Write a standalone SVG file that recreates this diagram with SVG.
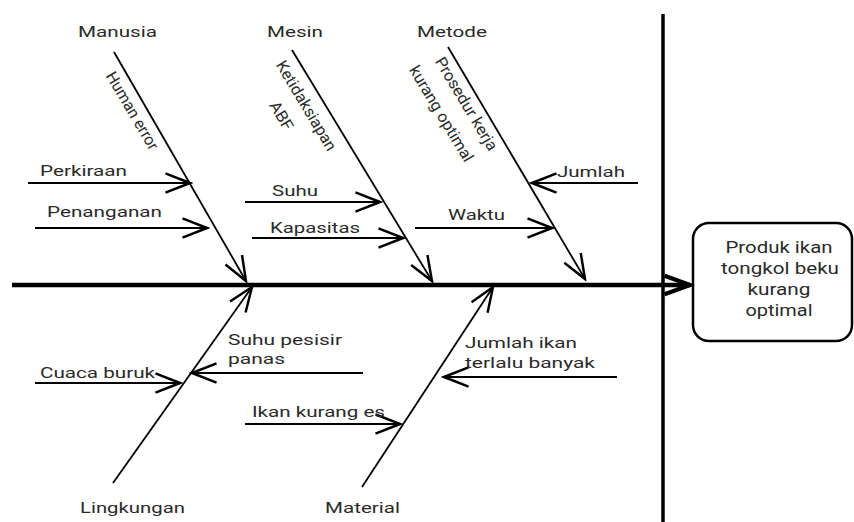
<svg xmlns="http://www.w3.org/2000/svg" width="854" height="522" viewBox="0 0 854 522">
<defs>
<marker id="ah" markerUnits="userSpaceOnUse" markerWidth="30" markerHeight="30" viewBox="-20 -10 22 20" refX="0" refY="0" orient="auto">
<path d="M-18,-7 L0,0 L-18,7" fill="none" stroke="#000" stroke-width="1.8"/>
</marker>
<marker id="ahb" markerUnits="userSpaceOnUse" markerWidth="30" markerHeight="30" viewBox="-24 -12 26 24" refX="0" refY="0" orient="auto">
<path d="M-22,-8 L0,0 L-22,8" fill="none" stroke="#000" stroke-width="3.5"/>
</marker>
<style>
text{font-family:Roboto,"Liberation Sans",sans-serif;font-size:15px;fill:#2a2a2a}
.box{font-size:17px;text-anchor:middle}
.rot{text-anchor:middle;font-size:16px}
.ln{stroke:#000;stroke-width:1.8;fill:none;marker-end:url(#ah)}
</style>
</defs>
<rect width="854" height="522" fill="#fff"/>
<g id="connectors">
<line x1="12" y1="285" x2="690" y2="285" stroke="#000" stroke-width="4.5" marker-end="url(#ahb)"/>
<line x1="663" y1="14" x2="663" y2="522" stroke="#000" stroke-width="3.5"/>
<line class="ln" x1="114" y1="52" x2="246" y2="281"/>
<line class="ln" x1="292" y1="50" x2="432" y2="281"/>
<line class="ln" x1="448" y1="47" x2="585" y2="279"/>
<line class="ln" x1="113" y1="483" x2="252" y2="287"/>
<line class="ln" x1="362" y1="487" x2="493" y2="287"/>
<line class="ln" x1="28" y1="183" x2="190" y2="183"/>
<line class="ln" x1="35" y1="228" x2="207" y2="228"/>
<line class="ln" x1="245" y1="202" x2="380" y2="202"/>
<line class="ln" x1="252" y1="238" x2="403" y2="238"/>
<line class="ln" x1="415" y1="228" x2="552" y2="228"/>
<line class="ln" x1="638" y1="183" x2="532" y2="183"/>
<line class="ln" x1="35" y1="383" x2="180" y2="383"/>
<line class="ln" x1="363" y1="373" x2="192" y2="373"/>
<line class="ln" x1="245" y1="424" x2="400" y2="424"/>
<line class="ln" x1="617" y1="377" x2="444" y2="377"/>
</g>
<g id="effect">
<rect x="693" y="223" width="159" height="118" rx="16" fill="#fff" stroke="#000" stroke-width="2.5"/>
<text class="box" x="779" y="253" textLength="107" lengthAdjust="spacingAndGlyphs">Produk ikan</text>
<text class="box" x="780" y="274" textLength="118" lengthAdjust="spacingAndGlyphs">tongkol beku</text>
<text class="box" x="779" y="295" textLength="63" lengthAdjust="spacingAndGlyphs">kurang</text>
<text class="box" x="779" y="316" textLength="67" lengthAdjust="spacingAndGlyphs">optimal</text>
</g>
<g id="manusia">
<text x="78" y="37" textLength="79" lengthAdjust="spacingAndGlyphs">Manusia</text>
<text class="rot" transform="translate(132,111) rotate(59.5)" y="5" textLength="88" lengthAdjust="spacingAndGlyphs">Human error</text>
</g>
<g id="mesin">
<text x="267" y="37" textLength="56" lengthAdjust="spacingAndGlyphs">Mesin</text>
<text class="rot" transform="translate(306,106) rotate(59)" y="5" textLength="102" lengthAdjust="spacingAndGlyphs">Ketidaksiapan</text>
<text class="rot" transform="translate(281,116) rotate(59)" y="5" textLength="31" lengthAdjust="spacingAndGlyphs">ABF</text>
</g>
<g id="metode">
<text x="417" y="37" textLength="70" lengthAdjust="spacingAndGlyphs">Metode</text>
<text class="rot" transform="translate(466,104) rotate(59)" y="5" textLength="106" lengthAdjust="spacingAndGlyphs">Prosedur kerja</text>
<text class="rot" transform="translate(441,114) rotate(59)" y="5" textLength="109" lengthAdjust="spacingAndGlyphs">kurang optimal</text>
</g>
<g id="perkiraan"><text x="40" y="176" textLength="87" lengthAdjust="spacingAndGlyphs">Perkiraan</text></g>
<g id="penanganan"><text x="47" y="217" textLength="115" lengthAdjust="spacingAndGlyphs">Penanganan</text></g>
<g id="suhu"><text x="272" y="196" textLength="46" lengthAdjust="spacingAndGlyphs">Suhu</text></g>
<g id="kapasitas"><text x="270" y="233" textLength="90" lengthAdjust="spacingAndGlyphs">Kapasitas</text></g>
<g id="waktu"><text x="448" y="220" textLength="57" lengthAdjust="spacingAndGlyphs">Waktu</text></g>
<g id="jumlah"><text x="557" y="177" textLength="68" lengthAdjust="spacingAndGlyphs">Jumlah</text></g>
<g id="lingkungan"><text x="80" y="513" textLength="105" lengthAdjust="spacingAndGlyphs">Lingkungan</text></g>
<g id="material"><text x="325" y="513" textLength="75" lengthAdjust="spacingAndGlyphs">Material</text></g>
<g id="cuaca"><text x="40" y="378" textLength="115" lengthAdjust="spacingAndGlyphs">Cuaca buruk</text></g>
<g id="suhupesisir">
<text x="228" y="345" textLength="114" lengthAdjust="spacingAndGlyphs">Suhu pesisir</text>
<text x="228" y="364" textLength="57" lengthAdjust="spacingAndGlyphs">panas</text>
</g>
<g id="ikankurang"><text x="252" y="417" textLength="133" lengthAdjust="spacingAndGlyphs">Ikan kurang es</text></g>
<g id="jumlahikan">
<text x="465" y="348" textLength="112" lengthAdjust="spacingAndGlyphs">Jumlah ikan</text>
<text x="465" y="368" textLength="130" lengthAdjust="spacingAndGlyphs">terlalu banyak</text>
</g>
</svg>
